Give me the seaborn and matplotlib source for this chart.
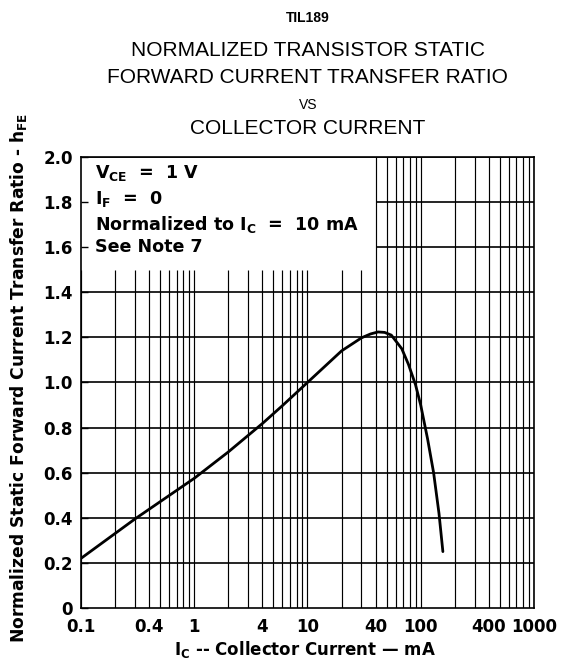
import numpy as np
import pandas as pd
import matplotlib
matplotlib.use("Agg")
import matplotlib.pyplot as plt
from matplotlib.ticker import FixedLocator, NullLocator, NullFormatter
import seaborn as sns

# curve
ic_ma = [0.1, 0.3, 1, 2, 4, 6, 10, 20, 30, 36, 42, 48, 55, 68, 78, 90, 100, 115, 130, 145, 157]
hfe_norm = [0.22, 0.395, 0.575, 0.692, 0.818, 0.897, 1.0, 1.14, 1.198, 1.215, 1.224, 1.222, 1.21, 1.15, 1.08, 0.99, 0.90, 0.75, 0.60, 0.42, 0.25]

xtick_vals = [0.1, 0.4, 1, 4, 10, 40, 100, 400, 1000]
xtick_labels = ["0.1", "0.4", "1", "4", "10", "40", "100", "400", "1000"]
ytick_vals = [0, 0.2, 0.4, 0.6, 0.8, 1.0, 1.2, 1.4, 1.6, 1.8, 2.0]
ytick_labels = ["0", "0.2", "0.4", "0.6", "0.8", "1.0", "1.2", "1.4", "1.6", "1.8", "2.0"]

notes = [r"V$_{\mathrm{CE}}$  =  1 V", r"I$_{\mathrm{F}}$  =  0",
         r"Normalized to I$_{\mathrm{C}}$  =  10 mA", "See Note 7"]
note_y = [1.93, 1.815, 1.70, 1.60]

sns.set_theme(style="white")
plt.rcParams['font.family'] = ['DejaVu Sans']
plt.rcParams['mathtext.fontset'] = 'custom'
plt.rcParams['mathtext.rm'] = 'DejaVu Sans:bold'
plt.rcParams['mathtext.default'] = 'rm'
for key in ['text.color', 'axes.labelcolor', 'xtick.color', 'ytick.color']:
    plt.rcParams[key] = 'black'

fig = plt.figure(figsize=(5.65, 6.62), dpi=100)
ax = fig.add_axes([0.1434, 0.0816, 0.8016, 0.6813])

df = pd.DataFrame({"ic": ic_ma, "hfe": hfe_norm})

ax.set_xscale("log")
ax.set_xlim(0.1, 1000)
ax.set_ylim(0, 2.0)

# log grid, leaving the note box clear in the upper left
box_x, box_y = 40, 1.5
grid_x = [m * 10.0 ** d for d in range(-1, 3) for m in range(1, 10)] + [1000]
for gx in grid_x:
    top = box_y if gx < box_x - 1e-9 else 2.0
    ax.vlines(gx, 0, top, color="black", lw=0.85, zorder=1)
for gy in ytick_vals[1:]:
    x0 = box_x if 1.5 < gy < 2.0 else 0.1
    ax.hlines(gy, x0, 1000, color="black", lw=1.2, zorder=1)

sns.lineplot(data=df, x="ic", y="hfe", color="black", lw=2.0, ax=ax, zorder=3)

ax.xaxis.set_major_locator(FixedLocator(xtick_vals))
ax.xaxis.set_minor_locator(NullLocator())
ax.xaxis.set_minor_formatter(NullFormatter())
ax.set_xticklabels(xtick_labels)
ax.set_yticks(ytick_vals)
ax.set_yticklabels(ytick_labels)
ax.tick_params(axis="x", length=0, pad=7, labelsize=12)
ax.tick_params(axis="y", direction="in", length=5, width=1, color="black",
               pad=6, labelsize=12, left=True)
for lab in ax.get_xticklabels() + ax.get_yticklabels():
    lab.set_fontweight("bold")

for s in ax.spines.values():
    s.set_color("black")
    s.set_linewidth(1.2)

ax.set_xlabel(r"I$_{\mathrm{C}}$ -- Collector Current — mA", fontsize=12,
              fontweight="bold", va="center")
ax.xaxis.set_label_coords(0.495, -0.093)
ax.set_ylabel(r"Normalized Static Forward Current Transfer Ratio - h$_{\mathrm{FE}}$",
              fontsize=12.3, fontweight="bold", va="center")
ax.yaxis.set_label_coords(-0.137, 0.51)

for t, ny in zip(notes, note_y):
    ax.text(0.133, ny, t, fontsize=12.6, fontweight="bold",
            va="center", ha="left", zorder=4)

cx = 0.545
fig.text(cx, 0.973, "TIL189", ha="center", va="center", fontsize=10, fontweight="bold",
         family="Liberation Sans")
fig.text(cx, 0.924, "NORMALIZED TRANSISTOR STATIC", ha="center", va="center",
         fontsize=15, family="Liberation Sans")
fig.text(cx, 0.883, "FORWARD CURRENT TRANSFER RATIO", ha="center", va="center",
         fontsize=15, family="Liberation Sans")
fig.text(cx, 0.841, "VS", ha="center", va="center", fontsize=10, family="Liberation Sans")
fig.text(cx, 0.806, "COLLECTOR CURRENT", ha="center", va="center", fontsize=15,
         family="Liberation Sans")

fig.savefig("out.png", dpi=100)
